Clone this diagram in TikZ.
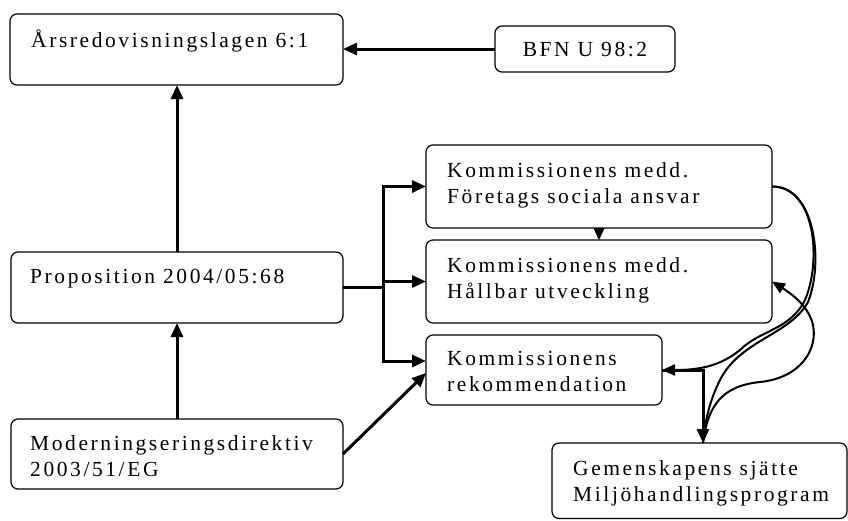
\documentclass[tikz,border=0pt]{standalone}
\usepackage{fontspec}
\setmainfont{Liberation Serif}[LetterSpace=12]
\usetikzlibrary{arrows.meta,calc}
\tikzset{
  box/.style={draw, line width=1.2pt, rounded corners=7pt, inner sep=0pt, outer sep=0pt},
  txt/.style={inner sep=0pt, anchor=base west},
  big/.style={line width=3pt, -{Triangle[length=14pt,width=12pt]}},
  curv/.style={line width=2pt},
  curvarrow/.style={line width=2pt, -{Triangle[length=13pt,width=11pt]}},
}
\newcommand{\twolines}[2]{\begin{tabular}[t]{@{}l@{}}#1\\#2\end{tabular}}
\begin{document}
\begin{tikzpicture}[x=1pt,y=-1pt, font=\fontsize{21.5}{26.5}\selectfont]
\useasboundingbox (0,0) rectangle (848,520);
% boxes
\node[box, minimum width=333pt, minimum height=71pt] (ars) at (176.5,49.5) {};
\node[box, minimum width=180pt, minimum height=46pt] (bfn) at (585,49) {BFN U 98:2};
\node[box, minimum width=332pt, minimum height=71pt] (prop) at (177,287.5) {};
\node[box, minimum width=332pt, minimum height=70pt] (mod) at (177,454) {};
\node[box, minimum width=346pt, minimum height=83pt] (k1) at (599,186.5) {};
\node[box, minimum width=346pt, minimum height=83pt] (k2) at (599,281.5) {};
\node[box, minimum width=236pt, minimum height=70pt] (k3) at (544,370) {};
\node[box, minimum width=295pt, minimum height=75.5pt] (gem) at (699.5,480.75) {};
% texts
\node[txt] (arst) at (31,47) {Årsredovisningslagen 6:1};
\node[txt] (propt) at (30,283) {Proposition 2004/05:68};
\node[txt] (modt) at (30,450) {\twolines{Moderningseringsdirektiv}{2003/51/EG}};
\node[txt] (k1t) at (447,177) {\twolines{Kommissionens medd.}{Företags sociala ansvar}};
\node[txt] (k2t) at (447,272) {\twolines{Kommissionens medd.}{Hållbar utveckling}};
\node[txt] (k3t) at (447,365) {\twolines{Kommissionens}{rekommendation}};
\node[txt] (gemt) at (573,475) {\twolines{Gemenskapens sjätte}{Miljöhandlingsprogram}};
% straight connectors
\draw[big] (bfn.west) -- (bfn.west -| ars.east);
\draw[big] (prop.north) -- (prop.north |- ars.south);
\draw[big] (mod.north) -- (mod.north |- prop.south);
\coordinate (j) at (383,287.5);
\draw[line width=3pt] (prop.east) -- (j);
\draw[big] (j) |- (k1.west);
\draw[big] (j) |- (k2.west);
\draw[big] (j) |- ($(k3.west)+(0,-9)$);
\draw[big] (mod.east) -- ($(k3.west)+(0,3)$);
\draw[line width=1.2pt, -{Triangle[length=12pt,width=11pt]}] (k1.south) -- (k2.north);
\coordinate (gemin) at ($(gem.north)+(3.5,0)$);
\draw[big] (k3.east) -| (gemin);
% curves
\draw[curvarrow] (k1.east) .. controls (815,186) and (822,260) .. (805,300)
   .. controls (790,330) and (760,330) .. (740,350)
   .. controls (720,366) and (700,370) .. (k3.east);
\draw[curv] (k1.east) .. controls (815,186) and (824,262) .. (808,302)
   .. controls (790,335) and (740,340) .. (720,380)
   .. controls (710,400) and (705,420) .. (gemin);
\draw[curvarrow] (gemin) .. controls (708,405) and (722,386) .. (760,382)
   .. controls (800,378) and (818,350) .. (813,325)
   .. controls (809,308) and (795,296) .. (k2.east);
\end{tikzpicture}
\end{document}
